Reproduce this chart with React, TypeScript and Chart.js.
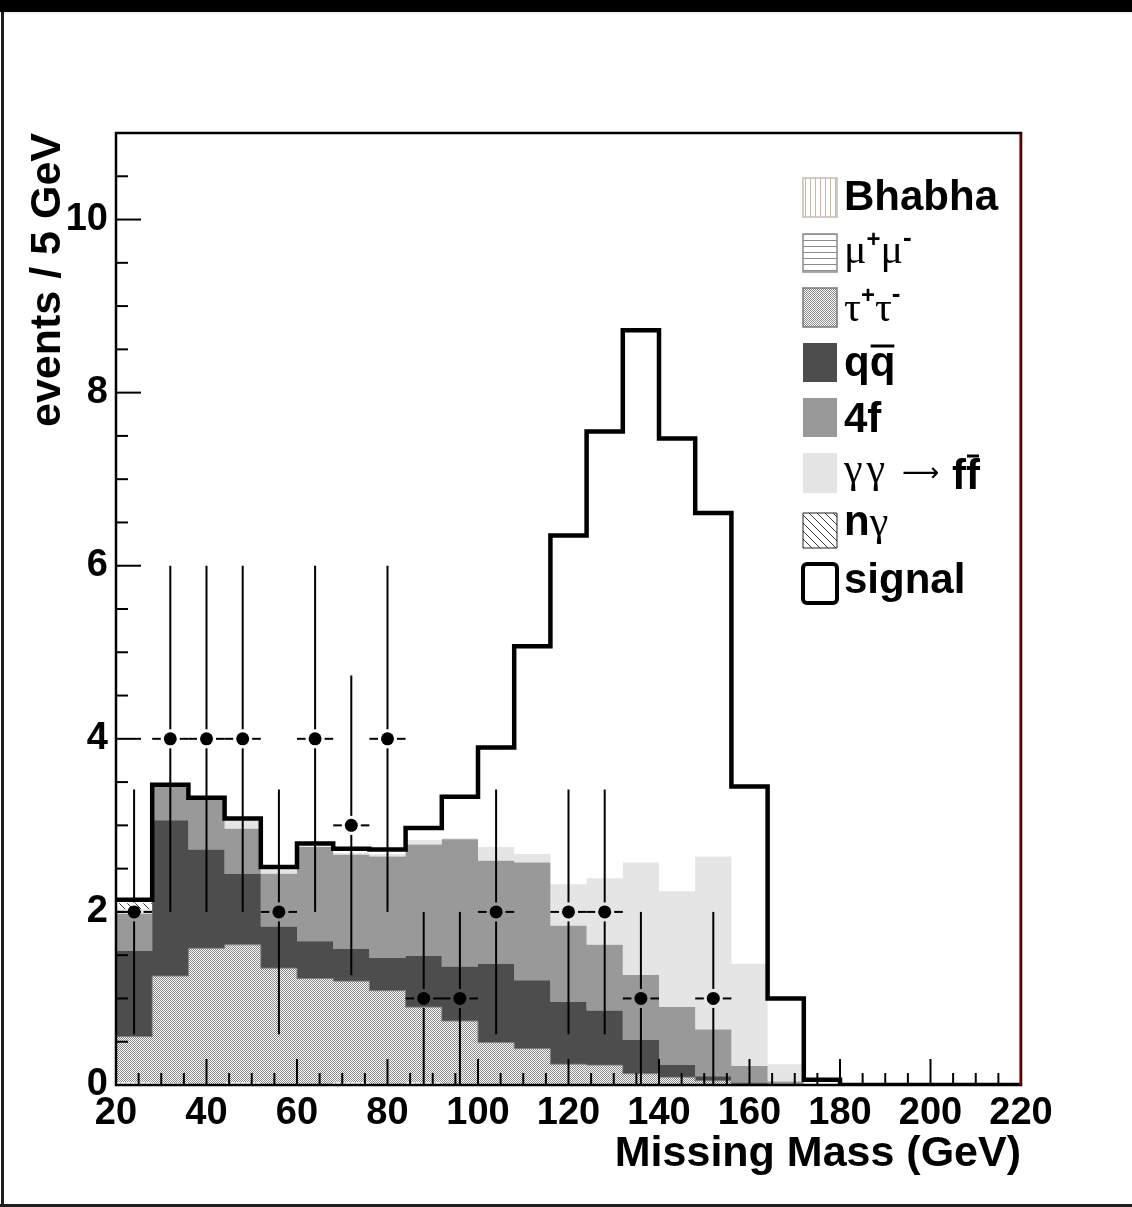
import React, { useEffect, useRef } from 'react';
import { Chart, registerables } from 'chart.js';

Chart.register(...registerables);

// ---------- data ----------
const binLeftEdges = [20, 28, 36, 44, 52, 60, 68, 76, 84, 92, 100, 108, 116, 124, 132, 140, 148, 156, 164, 172, 180, 188, 196, 204, 212];
const histUpperEdge = 220;

const bhabha = [0.03, 0.02, 0, 0.03, 0, 0, 0.03, 0, 0.03, 0, 0, 0, 0, 0, 0, 0, 0, 0, 0, 0, 0, 0, 0, 0, 0];
const mumu = [0, 0, 0, 0, 0, 0, 0, 0, 0, 0, 0, 0, 0, 0, 0, 0, 0, 0, 0, 0, 0, 0, 0, 0, 0];
const tautau = [0.53, 1.24, 1.58, 1.59, 1.35, 1.23, 1.17, 1.09, 0.87, 0.74, 0.49, 0.42, 0.24, 0.23, 0.13, 0.09, 0.05, 0.01, 0, 0, 0, 0, 0, 0, 0];
const qqbar = [0.99, 1.8, 1.14, 0.82, 0.48, 0.43, 0.37, 0.38, 0.59, 0.63, 0.91, 0.79, 0.72, 0.63, 0.39, 0.14, 0.05, 0.02, 0, 0, 0, 0, 0, 0, 0];
const fourFermion = [0.43, 0.39, 0.58, 0.52, 0.61, 1.09, 1.09, 1.17, 1.29, 1.47, 1.19, 1.36, 0.88, 0.76, 0.75, 0.67, 0.54, 0.19, 0.04, 0, 0, 0, 0, 0, 0];
const gammaGamma = [0.05, 0, 0, 0.1, 0.05, 0.01, 0.02, 0.03, 0.05, 0.01, 0.16, 0.1, 0.48, 0.77, 1.3, 1.34, 2.0, 1.18, 0.2, 0, 0, 0, 0, 0, 0];
const nGamma = [0.07, 0, 0, 0, 0, 0, 0, 0, 0, 0, 0, 0, 0, 0, 0, 0, 0, 0, 0, 0, 0, 0, 0, 0, 0];
const signal = [0.04, 0.02, 0.02, 0.02, 0.03, 0.03, 0.05, 0.05, 0.14, 0.48, 1.15, 2.4, 4.03, 5.16, 6.15, 5.23, 3.97, 2.05, 0.76, 0.06, 0, 0, 0, 0, 0];

const dataX = [24, 32, 40, 48, 56, 64, 72, 80, 88, 96, 104, 120, 128, 136, 152];
const dataCounts = [2, 4, 4, 4, 2, 4, 3, 4, 1, 1, 2, 2, 2, 1, 1];
const binHalfWidth = 4;

const xTitle = 'Missing Mass (GeV)';
const yTitle = 'events / 5 GeV';

// ---------- styles ----------
const SANS = '"Liberation Sans", Arial, Helvetica, sans-serif';
const SERIF = '"Liberation Serif", "Times New Roman", serif';

function histPoints(vals: number[]) {
  const pts = binLeftEdges.map((x, i) => ({ x, y: vals[i] }));
  pts.push({ x: histUpperEdge, y: vals[vals.length - 1] });
  return pts;
}

export default function App() {
  const ref = useRef<HTMLCanvasElement>(null);

  useEffect(() => {
    document.body.style.margin = '0';
    const canvas = ref.current!;
    const ctx = canvas.getContext('2d')!;

    const mk = (w: number, h: number, draw: (g: CanvasRenderingContext2D) => void) => {
      const c = document.createElement('canvas');
      c.width = w;
      c.height = h;
      const g = c.getContext('2d')!;
      draw(g);
      return ctx.createPattern(c, 'repeat')!;
    };
    const patTau = mk(2, 2, (g) => {
      g.fillStyle = '#ffffff';
      g.fillRect(0, 0, 2, 2);
      g.fillStyle = '#8a8a8a';
      g.fillRect(0, 0, 1, 1);
      g.fillRect(1, 1, 1, 1);
    });
    const patBhabha = mk(5, 5, (g) => {
      g.fillStyle = '#ffffff';
      g.fillRect(0, 0, 5, 5);
      g.fillStyle = '#c8b8a6';
      g.fillRect(0, 0, 1, 5);
    });
    const patMumu = mk(6, 6, (g) => {
      g.fillStyle = '#ffffff';
      g.fillRect(0, 0, 6, 6);
      g.fillStyle = '#8c8c8c';
      g.fillRect(0, 0, 6, 1);
    });
    const patNg = mk(8, 8, (g) => {
      g.fillStyle = '#ffffff';
      g.fillRect(0, 0, 8, 8);
      g.strokeStyle = '#3a3a3a';
      g.lineWidth = 1;
      g.beginPath();
      g.moveTo(-1, -1);
      g.lineTo(9, 9);
      g.moveTo(7, -1);
      g.lineTo(9, 1);
      g.moveTo(-1, 7);
      g.lineTo(1, 9);
      g.stroke();
    });

    const line = (c: CanvasRenderingContext2D, x1: number, y1: number, x2: number, y2: number) => {
      c.beginPath();
      c.moveTo(x1, y1);
      c.lineTo(x2, y2);
      c.stroke();
    };

    const drawLegend = (c: CanvasRenderingContext2D) => {
      const bold = (s: number) => `bold ${s}px ${SANS}`;
      const serif = (s: number) => `${s}px ${SERIF}`;
      const arrowFont = `26px "DejaVu Sans", ${SERIF}`;
      const bx = 803;
      const bw = 34;
      const tx = 844;
      c.save();
      c.textAlign = 'left';
      c.textBaseline = 'alphabetic';
      const box = (y0: number, y1: number, fill: any, stroke?: string, lw = 1.5, radius = 0) => {
        c.fillStyle = fill;
        c.beginPath();
        if (radius > 0) (c as any).roundRect(bx, y0, bw, y1 - y0, radius);
        else c.rect(bx, y0, bw, y1 - y0);
        c.fill();
        if (stroke) {
          c.strokeStyle = stroke;
          c.lineWidth = lw;
          c.stroke();
        }
      };
      type Part = { t: string; f: string; dy?: number; over?: number; gap?: number; x?: number };
      const run = (x: number, y: number, parts: Part[]) => {
        let cx = x;
        for (const p of parts) {
          if (p.x !== undefined) cx = p.x;
          c.font = p.f;
          c.fillStyle = '#000';
          c.fillText(p.t, cx, y + (p.dy || 0));
          const w = c.measureText(p.t).width;
          if (p.over !== undefined) {
            c.strokeStyle = '#000';
            c.lineWidth = 3;
            line(c, cx + 1, p.over, cx + w - 1, p.over);
          }
          cx += w + (p.gap || 0);
        }
      };

      box(178, 217, patBhabha, '#c8bcb0');
      run(tx, 210, [{ t: 'Bhabha', f: bold(42) }]);

      box(234, 272, patMumu, '#8c8c8c');
      run(tx, 263, [
        { t: 'μ', f: serif(42) },
        { t: '+', f: bold(24), dy: -16 },
        { t: 'μ', f: serif(42) },
        { t: '-', f: bold(26), dy: -17 },
      ]);

      box(288, 327, patTau, '#7a7a7a');
      run(tx, 321, [
        { t: 'τ', f: serif(42) },
        { t: '+', f: bold(24), dy: -18 },
        { t: 'τ', f: serif(42) },
        { t: '-', f: bold(26), dy: -19 },
      ]);

      box(343, 382, '#4d4d4d');
      run(tx, 376, [
        { t: 'q', f: bold(42) },
        { t: 'q', f: bold(42), over: 346 },
      ]);

      box(398, 437, '#999999');
      run(tx, 432, [{ t: '4f', f: bold(42) }]);

      box(453, 493, '#e5e5e5');
      run(tx, 482, [
        { t: 'γ', f: serif(42), gap: 4 },
        { t: 'γ', f: serif(42) },
        { t: '⟶', f: arrowFont, x: 902, dy: -1 },
        { t: 'f', f: bold(42), x: 952, dy: 7 },
        { t: 'f', f: bold(42), dy: 7, over: 456 },
      ]);

      box(513, 548, patNg, '#222222', 1);
      run(tx, 535, [
        { t: 'n', f: bold(42) },
        { t: 'γ', f: serif(42) },
      ]);

      box(564, 603, '#ffffff', '#000000', 4, 4);
      run(tx, 593, [{ t: 'signal', f: bold(42) }]);
      c.restore();
    };

    const rootStyle = {
      id: 'rootStyle',
      afterDatasetsDraw(chart: any) {
        const c = chart.ctx as CanvasRenderingContext2D;
        const xs = chart.scales.x;
        const ys = chart.scales.y;
        c.save();
        c.strokeStyle = '#000';
        c.lineWidth = 2;
        const gap = 9.5;
        dataX.forEach((cx, i) => {
          const n = dataCounts[i];
          const e = Math.sqrt(n);
          const px = xs.getPixelForValue(cx);
          const py = ys.getPixelForValue(n);
          const top = ys.getPixelForValue(n + e);
          const bot = ys.getPixelForValue(Math.max(0, n - e));
          if (py - gap > top) line(c, px, top, px, py - gap);
          if (py + gap < bot) line(c, px, py + gap, px, bot);
          const l = xs.getPixelForValue(cx - binHalfWidth);
          const r = xs.getPixelForValue(cx + binHalfWidth);
          line(c, l, py, px - gap, py);
          line(c, px + gap, py, r, py);
        });
        c.restore();
      },
      afterDraw(chart: any) {
        const c = chart.ctx as CanvasRenderingContext2D;
        const { left, right, top, bottom } = chart.chartArea;
        const xs = chart.scales.x;
        const ys = chart.scales.y;
        c.save();
        c.strokeStyle = '#000';
        c.lineWidth = 2;
        // ticks (inside, ROOT style)
        for (let v = 0.5; v < 11; v += 0.5) {
          const y = ys.getPixelForValue(v);
          const len = v % 2 === 0 ? 25 : 12;
          line(c, left, y, left + len, y);
        }
        for (let v = 25; v < 220; v += 5) {
          const x = xs.getPixelForValue(v);
          const len = (v - 20) % 20 === 0 ? 26 : 12;
          line(c, x, bottom, x, bottom - len);
        }
        // frame
        c.lineWidth = 2.5;
        c.strokeRect(left, top, right - left, bottom - top);
        c.strokeStyle = '#d40000';
        c.lineWidth = 1.2;
        line(c, right - 1, top + 1, right - 1, bottom);
        c.restore();
        drawLegend(c);
      },
    };

    const tickFont = { family: SANS, size: 38, weight: 'bold' as const };
    const titleFont = { family: SANS, size: 43, weight: 'bold' as const };

    const bg = (label: string, vals: number[], fill: any, color: any, extra: any = {}) => ({
      label,
      data: histPoints(vals),
      stepped: 'before',
      fill,
      backgroundColor: color,
      borderColor: 'rgba(0,0,0,0)',
      borderWidth: 0,
      pointRadius: 0,
      tension: 0,
      ...extra,
    });

    const chart = new Chart(ctx, {
      type: 'line',
      data: {
        datasets: [
          {
            label: 'data',
            data: dataX.map((x, i) => ({ x, y: dataCounts[i] })),
            stack: 'data',
            showLine: false,
            fill: false,
            borderWidth: 0,
            pointRadius: 6.5,
            pointHoverRadius: 6.5,
            pointBackgroundColor: '#000',
            pointBorderWidth: 0,
          } as any,
          bg('Bhabha', bhabha, 'origin', patBhabha),
          bg('μ+μ-', mumu, '-1', patMumu),
          bg('τ+τ-', tautau, '-1', patTau, { borderWidth: 1, borderColor: '#7a7a7a' }),
          bg('qq', qqbar, '-1', '#4d4d4d'),
          bg('4f', fourFermion, '-1', '#999999'),
          bg('γγ → ff', gammaGamma, '-1', '#e5e5e5'),
          bg('nγ', nGamma, '-1', patNg),
          {
            label: 'signal',
            data: histPoints(signal),
            stepped: 'before',
            fill: false,
            borderColor: '#000',
            backgroundColor: 'rgba(0,0,0,0)',
            borderWidth: 4.5,
            pointRadius: 0,
            tension: 0,
          } as any,
        ],
      },
      options: {
        responsive: false,
        animation: false,
        devicePixelRatio: 1,
        events: [],
        layout: { padding: { left: 0, right: 111, top: 133, bottom: 0 } },
        plugins: {
          legend: { display: false },
          tooltip: { enabled: false },
          filler: { drawTime: 'beforeDatasetsDraw' },
        } as any,
        scales: {
          x: {
            type: 'linear',
            min: 20,
            max: 220,
            afterFit: (s: any) => {
              s.height = 122;
            },
            grid: { display: false, drawTicks: false },
            border: { display: false },
            ticks: {
              stepSize: 20,
              autoSkip: false,
              maxRotation: 0,
              padding: 6,
              color: '#000',
              font: tickFont,
            },
            title: {
              display: true,
              text: xTitle,
              align: 'end',
              color: '#000',
              font: titleFont,
              padding: { top: 0, bottom: 27 },
            },
          },
          y: {
            type: 'linear',
            stacked: true,
            min: 0,
            max: 11,
            afterFit: (s: any) => {
              s.width = 116;
            },
            grid: { display: false, drawTicks: false },
            border: { display: false },
            ticks: {
              stepSize: 2,
              includeBounds: false,
              padding: 8,
              color: '#000',
              font: tickFont,
            },
            title: {
              display: true,
              text: yTitle,
              align: 'end',
              color: '#000',
              font: titleFont,
              padding: { top: 22, bottom: 0 },
            },
          },
        },
      } as any,
      plugins: [rootStyle as any],
    });

    return () => chart.destroy();
  }, []);

  return (
    <div style={{ position: 'fixed', left: 0, top: 0, width: 1132, height: 1207, background: '#fff', overflow: 'hidden' }}>
      <canvas ref={ref} width={1132} height={1207} style={{ position: 'absolute', left: 0, top: 0, width: 1132, height: 1207, display: 'block' }} />
      <div style={{ position: 'absolute', left: 0, top: 0, width: 1132, height: 12, background: '#000' }} />
      <div style={{ position: 'absolute', left: 0, top: 12, width: 1132, height: 2, background: '#eef3f3' }} />
      <div style={{ position: 'absolute', left: 1, top: 12, width: 3, height: 1195, background: '#1e1e1e' }} />
      <div style={{ position: 'absolute', left: 0, top: 1204, width: 1132, height: 3, background: '#1e1e1e' }} />
    </div>
  );
}
